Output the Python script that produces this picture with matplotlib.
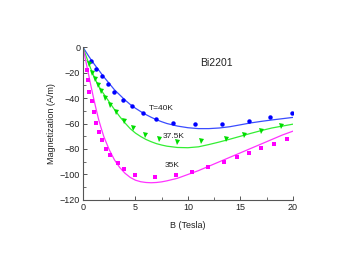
import numpy as np
import matplotlib
matplotlib.use("Agg")
import matplotlib.pyplot as plt
from matplotlib.ticker import MultipleLocator

plt.rcParams['font.family'] = ['Liberation Sans', 'DejaVu Sans']

# measured points, T = 40K
b40 = [0.76, 1.27, 1.78, 2.35, 3.0, 3.8, 4.64, 5.71, 6.95, 8.6, 10.7, 13.2, 15.8, 17.8, 19.9]
m40 = [-10.8, -17, -23, -29.2, -35.3, -41.3, -46.6, -51.5, -56.5, -59.2, -60.6, -60.4, -57.7, -55.1, -51.4]

# measured points, T = 37.5K
b375 = [0.54, 0.86, 1.17, 1.4, 1.69, 2.12, 2.54, 3.11, 3.9, 4.73, 5.9, 7.2, 9.0, 11.2, 13.6, 15.3, 17.0, 18.9]
m375 = [-13.2, -20, -25.3, -29.8, -34.5, -40, -45.3, -50.8, -58.3, -63.8, -69.3, -72.5, -74.9,
        -74.1, -71.9, -68.8, -65.6, -62]

# measured points, T = 35K
b35 = [0.35, 0.48, 0.6, 0.83, 1.08, 1.27, 1.5, 1.84, 2.19, 2.6, 3.36, 3.93, 4.98, 6.83, 8.83,
       10.35, 11.88, 13.4, 14.7, 15.84, 16.92, 18.19, 19.39]
m35 = [-17.8, -25.5, -35.3, -42.7, -50.6, -59.6, -66.7, -73.3, -80.2, -84.6, -90.7, -95.9, -100.7,
       -102.3, -100.2, -98, -94, -89.9, -86.4, -83.3, -79.6, -76.2, -71.9]

# fit curves
fb = [0, 0.25, 0.5, 0.75, 1, 1.25, 1.5, 1.75, 2, 2.5, 3, 3.5, 4, 4.5, 5, 5.5, 6, 6.5, 7, 7.5, 8,
      9, 10, 11, 12, 13, 14, 15, 16, 17, 18, 19, 20]
f40 = [0, -3.3, -6.5, -9.6, -12.5, -15.3, -18, -20.8, -23.5, -28.5, -33.5, -37.5, -41.5, -45, -48,
       -50.6, -53, -55.1, -57, -58.6, -60, -62, -63.3, -64, -64, -63.5, -62.5, -61, -59.5, -58.3,
       -57.2, -56.2, -55.2]
f375 = [0, -5.9, -11.5, -17, -22, -26.5, -30.5, -34, -37, -43, -49, -54.5, -59.5, -64, -67.5,
        -70.2, -72.5, -74.3, -75.8, -76.9, -77.8, -78.8, -79, -78.3, -76.5, -74.5, -72.3, -70,
        -67.7, -65.5, -63.5, -62, -60.5]
f35 = [0, -10, -20, -30, -39.5, -48.5, -57, -64, -70.5, -80.5, -88.5, -94.5, -99, -102.3, -104.5,
       -105.7, -106.3, -106.5, -106.3, -105.8, -105, -103, -100, -97, -93.5, -90, -86.5, -83,
       -79.5, -76, -72.5, -69, -66]

fig = plt.figure(figsize=(3.59, 2.56), dpi=100)
ax = fig.add_axes([0.231, 0.219, 0.585, 0.597])

ax.plot(fb, f40, color='#3a4cff', lw=0.9)
ax.plot(fb, f375, color='#33ee33', lw=0.9)
ax.plot(fb, f35, color='#ff33ff', lw=0.9)
ax.plot(b40, m40, 'o', color='#0000ff', ms=3.2, mew=0)
ax.plot(b375, m375, 'v', color='#00dd00', ms=3.6, mew=0)
ax.plot(b35, m35, 's', color='#ff00ff', ms=2.9, mew=0)

ax.set_xlim(0, 20)
ax.set_ylim(-120, 0)
ax.xaxis.set_major_locator(MultipleLocator(5))
ax.xaxis.set_minor_locator(MultipleLocator(2.5))
ax.yaxis.set_major_locator(MultipleLocator(20))
ax.yaxis.set_minor_locator(MultipleLocator(10))
ax.spines['top'].set_visible(False)
ax.spines['right'].set_visible(False)
for s in ['left', 'bottom']:
    ax.spines[s].set_color('#555555')
    ax.spines[s].set_linewidth(0.8)
ax.tick_params(which='both', direction='in', colors='#555555', labelcolor='#222222', labelsize=6.5, pad=2)
ax.tick_params(which='major', length=3, width=0.7)
ax.tick_params(which='minor', length=2, width=0.6)

ax.set_xlabel('B (Tesla)', fontsize=6.5, color='#222222', labelpad=7)
ax.set_ylabel('Magnetization (A/m)', fontsize=6.5, color='#222222', labelpad=3)

ax.text(11.2, -15, 'Bi2201', fontsize=7.5, color='#222222')
ax.text(6.3, -49, 'T=40K', fontsize=6, color='#222222')
ax.text(7.6, -71.5, '37.5K', fontsize=6, color='#222222')
ax.text(7.8, -94.5, '35K', fontsize=6, color='#222222')

fig.savefig('out.png', dpi=100)
